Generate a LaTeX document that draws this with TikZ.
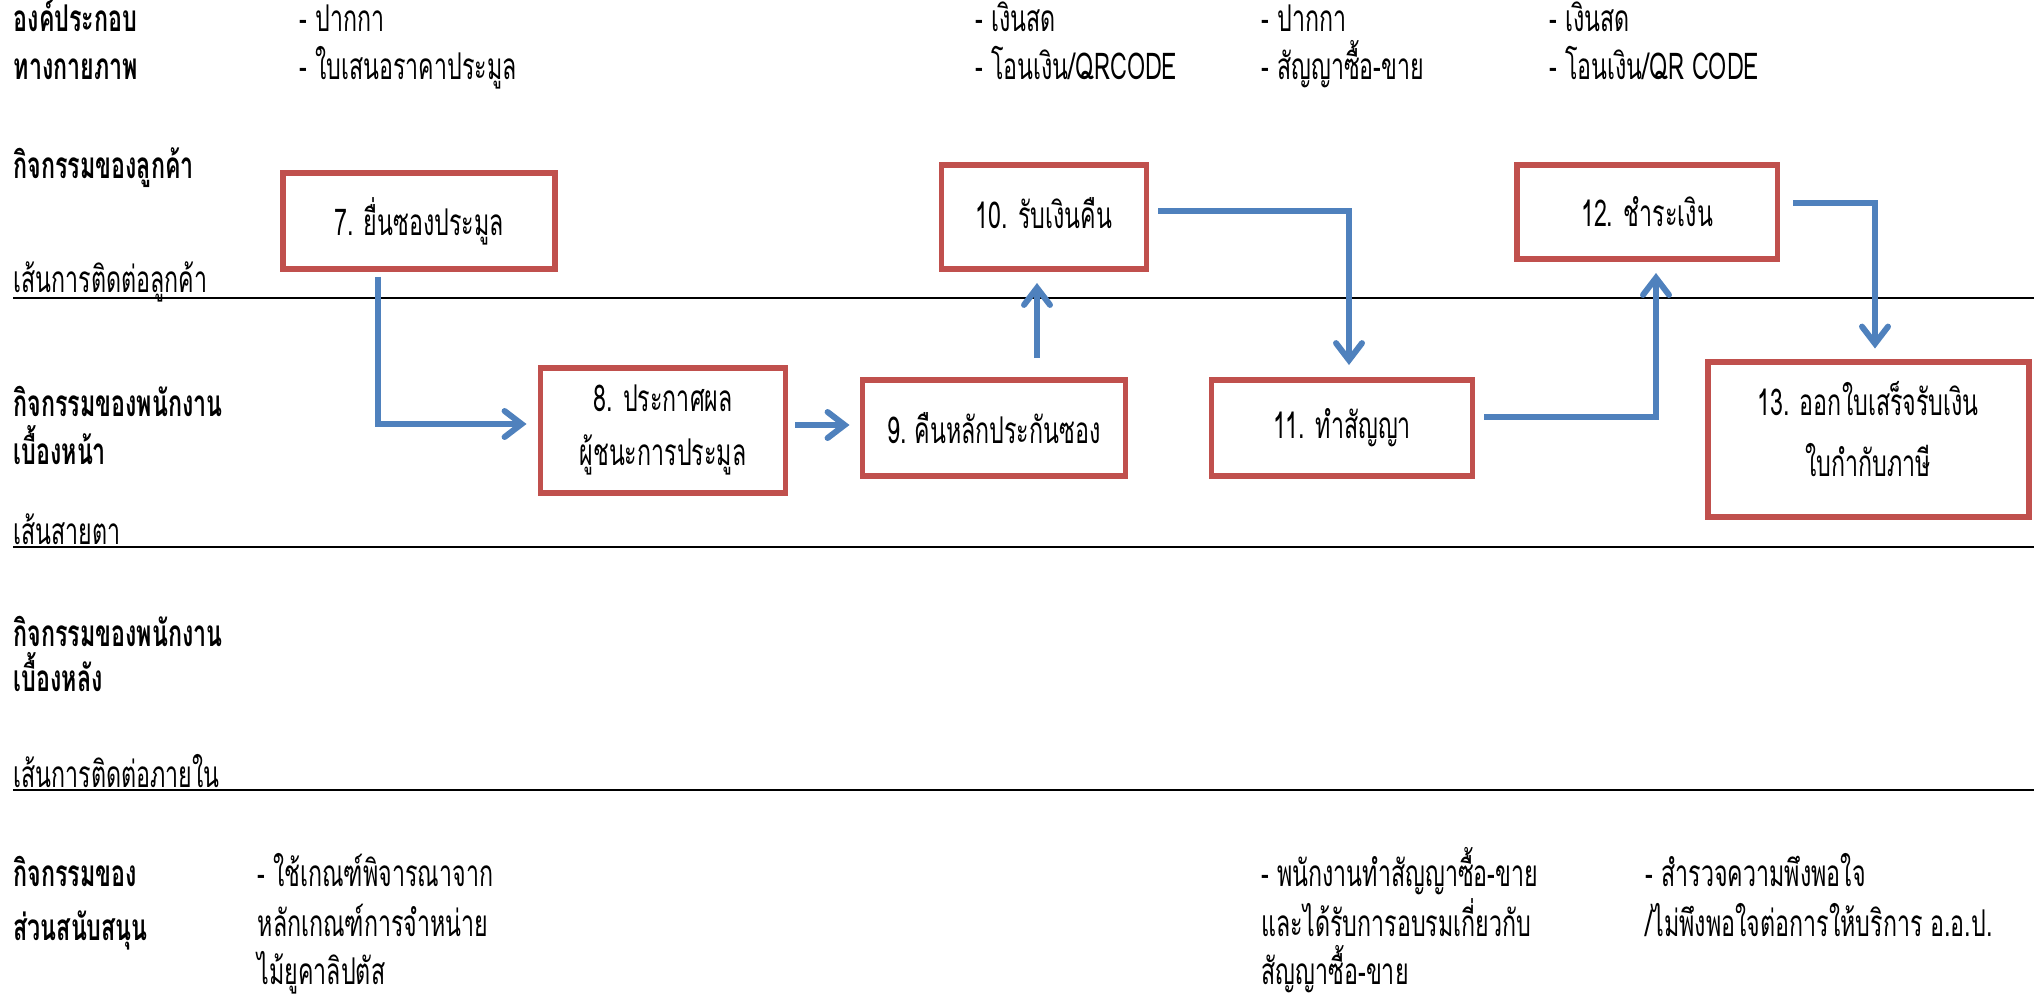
\documentclass[tikz,border=0pt]{standalone}
\usepackage{fontspec}
\setmainfont[Script=Thai,FakeStretch=0.63]{Loma}
\usetikzlibrary{arrows.meta}
\definecolor{boxred}{HTML}{C0504D}
\definecolor{flowblue}{HTML}{4F81BD}

\begin{document}
\begin{tikzpicture}[x=0.1mm,y=-0.1mm,
  font=\fontsize{10.5pt}{15.5pt}\selectfont,
  lane/.style={anchor=base west,inner sep=0pt,font=\fontsize{10.5pt}{15.5pt}\selectfont\bfseries},
  item/.style={anchor=base west,inner sep=0pt},
  stepbox/.style={draw=boxred,line width=1.7pt,align=center,inner sep=0pt},
  flow/.style={draw=flowblue,line width=1.7pt,-{Straight Barb[length=1.7mm,width=2.6mm,line cap=round]}},
  ]
\useasboundingbox (0,0) rectangle (2038,997);

% lane lines
\draw[line width=0.7pt] (13,298) -- (2034,298);
\draw[line width=0.7pt] (13,547) -- (2034,547);
\draw[line width=0.7pt] (13,790) -- (2034,790);

% lane titles
\node[lane] (comp1) at (13,31) {องค์ประกอบ};
\node[lane] (comp2) at (13,79) {ทางกายภาพ};
\node[lane] (cust) at (13,178) {กิจกรรมของลูกค้า};
\node[item] (custline) at (13,292) {เส้นการติดต่อลูกค้า};
\node[lane] (front1) at (13,416) {กิจกรรมของพนักงาน};
\node[lane] (front2) at (13,464) {เบื้องหน้า};
\node[item] (sight) at (13,544) {เส้นสายตา};
\node[lane] (back1) at (13,646) {กิจกรรมของพนักงาน};
\node[lane] (back2) at (13,691) {เบื้องหลัง};
\node[item] (inner) at (13,787) {เส้นการติดต่อภายใน};
\node[lane] (supp1) at (13,886) {กิจกรรมของ};
\node[lane] (supp2) at (13,940) {ส่วนสนับสนุน};

% physical evidence
\node[item] (ev7a) at (299,31) {- ปากกา};
\node[item] (ev7b) at (299,79) {- ใบเสนอราคาประมูล};
\node[item] (ev10a) at (975,31) {- เงินสด};
\node[item] (ev10b) at (975,79) {- โอนเงิน/QRCODE};
\node[item] (ev11a) at (1261,31) {- ปากกา};
\node[item] (ev11b) at (1261,79) {- สัญญาซื้อ-ขาย};
\node[item] (ev12a) at (1549,31) {- เงินสด};
\node[item] (ev12b) at (1549,79) {- โอนเงิน/QR CODE};

% support
\node[item] (sp8a) at (257,886) {- ใช้เกณฑ์พิจารณาจาก};
\node[item] (sp8b) at (257,936) {หลักเกณฑ์การจำหน่าย};
\node[item] (sp8c) at (257,984) {ไม้ยูคาลิปตัส};
\node[item] (sp11a) at (1261,886) {- พนักงานทำสัญญาซื้อ-ขาย};
\node[item] (sp11b) at (1261,936) {และได้รับการอบรมเกี่ยวกับ};
\node[item] (sp11c) at (1261,984) {สัญญาซื้อ-ขาย};
\node[item] (sp13a) at (1645,886) {- สำรวจความพึงพอใจ};
\node[item] (sp13b) at (1645,936) {/ไม่พึงพอใจต่อการให้บริการ อ.อ.ป.};

% steps
\node[stepbox,minimum width=27.2mm,minimum height=9.6mm] (s7) at (419,221) {7. ยื่นซองประมูล};
\node[stepbox,minimum width=24.5mm,minimum height=12.5mm] (s8) at (663,430) {8. ประกาศผล\\ผู้ชนะการประมูล\rule[-0.8mm]{0pt}{0pt}};
\node[stepbox,minimum width=26.3mm,minimum height=9.6mm] (s9) at (994,428) {9.\ คืนหลักประกันซอง};
\node[stepbox,minimum width=20.5mm,minimum height=10.4mm] (s10) at (1044,217) {10. รับเงินคืน\rule[-0.8mm]{0pt}{0pt}};
\node[stepbox,minimum width=26.1mm,minimum height=9.6mm] (s11) at (1342,428) {11. ทำสัญญา};
\node[stepbox,minimum width=26.1mm,minimum height=9.4mm] (s12) at (1647,212) {12. ชำระเงิน};
\node[stepbox,minimum width=32.1mm,minimum height=15.5mm] (s13) at (1868,439) {13. ออกใบเสร็จรับเงิน\\[0.6mm]ใบกำกับภาษี\rule[-2mm]{0pt}{0pt}};

% flow
\draw[flow,shorten <=0.5mm,shorten >=1.1mm] ([xshift=-4.1mm]s7.south) |- ([yshift=0.6mm]s8.west);
\draw[flow,shorten <=0.7mm,shorten >=1mm] ([yshift=0.5mm]s8.east) -- ([yshift=0.5mm]s8.east -| s9.west);
\draw[flow,shorten <=1.9mm,shorten >=1.1mm] ([xshift=-0.7mm]s9.north -| s10.south) -- ([xshift=-0.7mm]s10.south);
\draw[flow,shorten <=0.9mm,shorten >=1.2mm] ([yshift=0.6mm]s10.east) -| ([xshift=0.7mm]s11.north);
\draw[flow,shorten <=0.9mm,shorten >=1.1mm] ([yshift=1.1mm]s11.east) -| ([xshift=0.9mm]s12.south);
\draw[flow,shorten <=1.3mm,shorten >=1mm] ([yshift=0.9mm]s12.east) -| ([xshift=0.7mm]s13.north);
\end{tikzpicture}
\end{document}
